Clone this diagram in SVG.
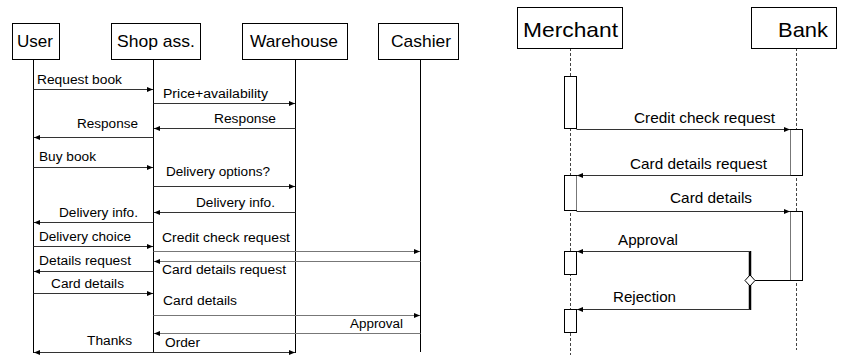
<svg xmlns="http://www.w3.org/2000/svg" width="844" height="358" viewBox="0 0 844 358">
<defs>
<marker id="ah" markerUnits="userSpaceOnUse" markerWidth="7" markerHeight="6" refX="6" refY="3" orient="auto">
<path d="M0,0.5 L6,3 L0,5.5 z" fill="#000"/>
</marker>
<style>
.box{fill:#fff;stroke:#000;stroke-width:1}
.ttl{font-family:"Liberation Sans",Arial,sans-serif;font-size:17px;fill:#000}
.ttl2{font-family:"Liberation Sans",Arial,sans-serif;font-size:21px;fill:#000}
.lbl{font-family:"Liberation Sans",Arial,sans-serif;font-size:12px;fill:#000}
.lbl2{font-family:"Liberation Sans",Arial,sans-serif;font-size:14.5px;fill:#000}
.life{stroke:#000;stroke-width:1}
.dash{stroke:#444;stroke-width:1;stroke-dasharray:3,2}
.msg{stroke:#333;stroke-width:1;fill:none;marker-end:url(#ah)}
.msgg{stroke:#777;stroke-width:1;fill:none;marker-end:url(#ah)}
.act{fill:#fff;stroke:#000;stroke-width:1}
</style>
</defs>
<rect width="844" height="358" fill="#fff"/>

<!-- Left diagram lifelines -->
<g id="lifelines-left">
<line class="life" x1="33.5" y1="59" x2="33.5" y2="353"/>
<line class="life" x1="153.5" y1="59" x2="153.5" y2="353"/>
<line class="life" x1="295.5" y1="59" x2="295.5" y2="353"/>
<line class="life" x1="420.5" y1="59" x2="420.5" y2="352"/>
</g>
<g id="user"><rect class="box" x="12.5" y="23.5" width="47" height="36"/><text class="ttl" x="17" y="47" textLength="36" lengthAdjust="spacingAndGlyphs">User</text></g>
<g id="shop"><rect class="box" x="111.5" y="23.5" width="89" height="36"/><text class="ttl" x="117" y="47" textLength="78" lengthAdjust="spacingAndGlyphs">Shop ass.</text></g>
<g id="warehouse"><rect class="box" x="242.5" y="23.5" width="105" height="36"/><text class="ttl" x="250" y="47" textLength="88" lengthAdjust="spacingAndGlyphs">Warehouse</text></g>
<g id="cashier"><rect class="box" x="378.5" y="23.5" width="80" height="36"/><text class="ttl" x="391" y="47" textLength="60" lengthAdjust="spacingAndGlyphs">Cashier</text></g>

<g id="connectors-left">
<line class="msg" x1="33.5" y1="89.5" x2="153" y2="89.5"/>
<line class="msg" x1="153.5" y1="103.5" x2="295" y2="103.5"/>
<line class="msg" x1="295.5" y1="128.5" x2="154" y2="128.5"/>
<line class="msg" x1="153.5" y1="137.5" x2="34" y2="137.5"/>
<line class="msg" x1="33.5" y1="167.5" x2="153" y2="167.5"/>
<line class="msg" x1="153.5" y1="186.5" x2="295" y2="186.5"/>
<line class="msg" x1="295.5" y1="212.5" x2="154" y2="212.5"/>
<line class="msg" x1="153.5" y1="222.5" x2="34" y2="222.5"/>
<line class="msg" x1="33.5" y1="246.5" x2="153" y2="246.5"/>
<line class="msgg" x1="153.5" y1="251.5" x2="420" y2="251.5"/>
<line class="msgg" x1="420.5" y1="261.5" x2="154" y2="261.5"/>
<line class="msg" x1="153.5" y1="271.5" x2="34" y2="271.5"/>
<line class="msg" x1="33.5" y1="293.5" x2="153" y2="293.5"/>
<line class="msgg" x1="153.5" y1="315.5" x2="420" y2="315.5"/>
<line class="msgg" x1="420.5" y1="333.5" x2="154" y2="333.5"/>
<line class="msg" x1="153.5" y1="352.5" x2="295" y2="352.5"/>
<line class="msg" x1="153.5" y1="352.5" x2="34" y2="352.5"/>
</g>
<g id="labels-left">
<text class="lbl" x="37" y="84" textLength="85" lengthAdjust="spacingAndGlyphs">Request book</text>
<text class="lbl" x="163" y="98" textLength="105" lengthAdjust="spacingAndGlyphs">Price+availability</text>
<text class="lbl" x="214" y="123" textLength="62" lengthAdjust="spacingAndGlyphs">Response</text>
<text class="lbl" x="77" y="128" textLength="61" lengthAdjust="spacingAndGlyphs">Response</text>
<text class="lbl" x="39" y="161" textLength="57" lengthAdjust="spacingAndGlyphs">Buy book</text>
<text class="lbl" x="166" y="176" textLength="104" lengthAdjust="spacingAndGlyphs">Delivery options?</text>
<text class="lbl" x="196" y="207" textLength="79" lengthAdjust="spacingAndGlyphs">Delivery info.</text>
<text class="lbl" x="59" y="217" textLength="79" lengthAdjust="spacingAndGlyphs">Delivery info.</text>
<text class="lbl" x="39" y="241" textLength="92" lengthAdjust="spacingAndGlyphs">Delivery choice</text>
<text class="lbl" x="162" y="242" textLength="128" lengthAdjust="spacingAndGlyphs">Credit check request</text>
<text class="lbl" x="162" y="274" textLength="124" lengthAdjust="spacingAndGlyphs">Card details request</text>
<text class="lbl" x="39" y="265" textLength="92" lengthAdjust="spacingAndGlyphs">Details request</text>
<text class="lbl" x="51" y="288" textLength="73" lengthAdjust="spacingAndGlyphs">Card details</text>
<text class="lbl" x="163" y="305" textLength="74" lengthAdjust="spacingAndGlyphs">Card details</text>
<text class="lbl" x="350" y="328" textLength="53" lengthAdjust="spacingAndGlyphs">Approval</text>
<text class="lbl" x="165" y="347" textLength="35" lengthAdjust="spacingAndGlyphs">Order</text>
<text class="lbl" x="87" y="345" textLength="45" lengthAdjust="spacingAndGlyphs">Thanks</text>
</g>

<!-- Right diagram -->
<g id="lifelines-right">
<line class="dash" x1="570.5" y1="48" x2="570.5" y2="355"/>
<line class="dash" x1="796.5" y1="48" x2="796.5" y2="350"/>
</g>
<g id="merchant"><rect class="box" x="517.5" y="7.5" width="105" height="41"/><text class="ttl2" x="523" y="37" textLength="95" lengthAdjust="spacingAndGlyphs">Merchant</text></g>
<g id="bank"><rect class="box" x="751.5" y="7.5" width="85" height="41"/><text class="ttl2" x="778" y="37" textLength="50" lengthAdjust="spacingAndGlyphs">Bank</text></g>

<g id="activations">
<rect class="act" x="564.5" y="76.5" width="12" height="52"/>
<rect class="act" x="564.5" y="175.5" width="12" height="35"/>
<rect class="act" x="564.5" y="251.5" width="12" height="23"/>
<rect class="act" x="564.5" y="309.5" width="12" height="23"/>
<rect class="act" x="790.5" y="129.5" width="12" height="46"/>
<rect class="act" x="790.5" y="211.5" width="12" height="69"/>
<line x1="576.5" y1="176" x2="576.5" y2="210" stroke="#777"/>
<line x1="790.5" y1="130" x2="790.5" y2="175" stroke="#777"/>
<line x1="790.5" y1="212" x2="790.5" y2="280" stroke="#777"/>
</g>

<g id="connectors-right">
<line class="msg" x1="576.5" y1="129.5" x2="790" y2="129.5"/>
<line class="msg" x1="790.5" y1="175.5" x2="577" y2="175.5"/>
<line class="msg" x1="576.5" y1="211.5" x2="790" y2="211.5"/>
<line x1="790.5" y1="280.5" x2="755" y2="280.5" stroke="#000"/>
<line x1="750" y1="251" x2="750" y2="310" stroke="#000" stroke-width="2.5"/>
<line class="msg" x1="750" y1="251.5" x2="577" y2="251.5"/>
<line class="msg" x1="750" y1="309.5" x2="577" y2="309.5"/>
<path d="M750,275 L755,280.5 L750,286 L745,280.5 z" fill="#fff" stroke="#000" stroke-width="1"/>
</g>
<g id="labels-right">
<text class="lbl2" x="634" y="123" textLength="141" lengthAdjust="spacingAndGlyphs">Credit check request</text>
<text class="lbl2" x="630" y="169" textLength="137" lengthAdjust="spacingAndGlyphs">Card details request</text>
<text class="lbl2" x="670" y="203" textLength="82" lengthAdjust="spacingAndGlyphs">Card details</text>
<text class="lbl2" x="618" y="245" textLength="60" lengthAdjust="spacingAndGlyphs">Approval</text>
<text class="lbl2" x="613" y="302" textLength="63" lengthAdjust="spacingAndGlyphs">Rejection</text>
</g>
</svg>
